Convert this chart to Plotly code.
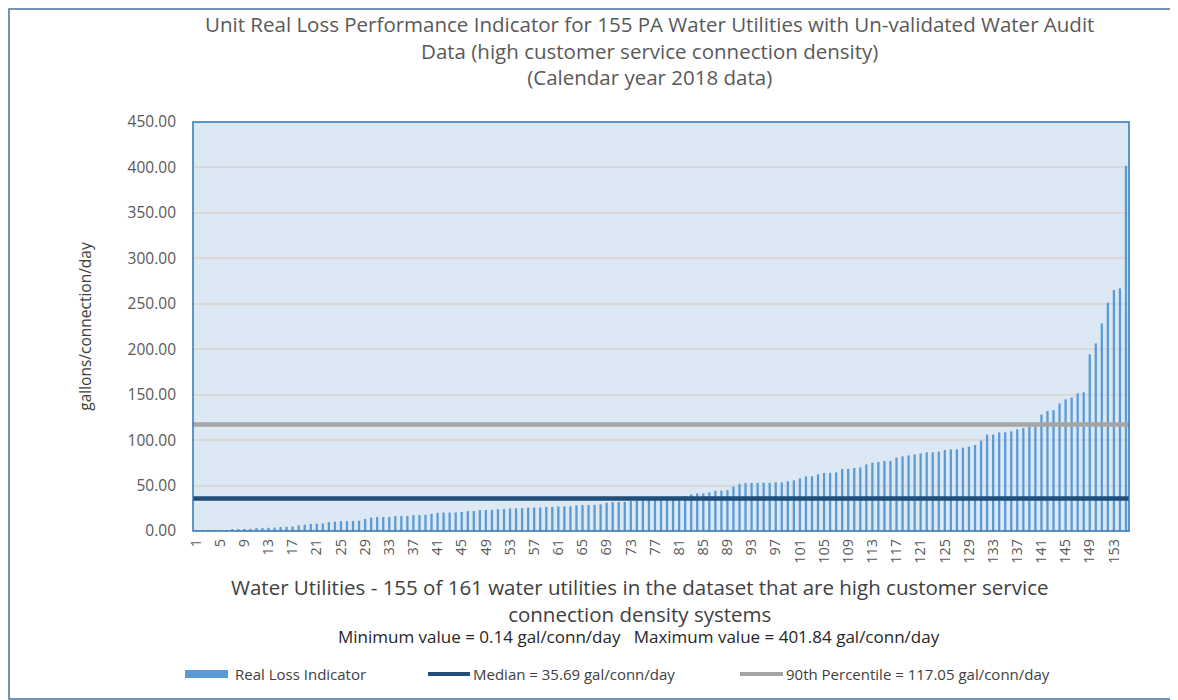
import plotly.graph_objects as go

# Unit real loss indicator (gal/conn/day), sorted ascending, one value per utility
real_loss = [
    0.14, 0.3, 0.5, 0.7, 0.9, 1.1, 1.3, 2.0, 2.2, 2.4,
    3.2, 3.4, 3.5, 3.7, 4.4, 4.6, 4.9, 6.3, 7.0, 7.8,
    8.0, 8.3, 9.8, 10.3, 10.8, 10.9, 11.1, 11.3, 13.2, 14.7,
    15.3, 15.4, 15.5, 16.4, 16.5, 16.6, 17.5, 17.6, 17.8, 19.0,
    20.1, 20.2, 20.3, 20.4, 20.9, 21.9, 22.0, 23.0, 23.1, 23.2,
    24.1, 24.2, 24.9, 25.0, 25.2, 25.7, 25.8, 25.9, 26.4, 26.5,
    27.0, 27.1, 27.2, 28.2, 28.5, 28.6, 28.7, 29.3, 31.1, 31.8,
    31.9, 32.0, 33.0, 33.5, 34.0, 34.5, 35.2, 35.69, 36.2, 36.8,
    37.3, 38.6, 40.3, 41.3, 41.4, 42.5, 44.3, 44.4, 45.1, 48.8,
    51.9, 52.7, 52.8, 52.9, 53.0, 53.1, 53.5, 53.6, 54.6, 55.7,
    57.9, 60.1, 60.2, 62.3, 63.8, 63.9, 64.5, 68.2, 68.3, 69.3,
    70.0, 73.3, 75.2, 75.9, 77.0, 77.1, 80.7, 82.1, 83.2, 84.3,
    85.4, 86.5, 86.6, 87.3, 89.1, 89.8, 89.9, 91.7, 92.8, 94.6,
    99.4, 106.0, 106.1, 108.5, 108.6, 109.6, 111.9, 113.3, 114.8, 117.05,
    128.0, 132.0, 133.1, 140.4, 144.9, 147.0, 151.5, 152.5, 194.3, 206.4,
    228.4, 251.2, 265.1, 266.9, 401.84,
]
utility_ids = list(range(1, len(real_loss) + 1))
tick_ids = utility_ids[::4]

median_value = 35.69
p90_value = 117.05
y_ticks = [0, 50, 100, 150, 200, 250, 300, 350, 400, 450]

x_range = [0.5, len(real_loss) + 0.5]

BAR_BLUE = "#5B9BD5"
MEDIAN_BLUE = "#1F4E79"
P90_GRAY = "#A5A5A5"
FONT = "Open Sans, DejaVu Sans, sans-serif"

# page body has an 8px margin, so the figure is 8px smaller and margins shifted
fig = go.Figure()

fig.add_trace(go.Bar(
    x=utility_ids,
    y=real_loss,
    name="Real Loss Indicator",
    marker=dict(color=BAR_BLUE, line=dict(width=0)),
    width=0.38,
))

fig.add_trace(go.Scatter(
    x=x_range,
    y=[median_value, median_value],
    mode="lines",
    line=dict(color=MEDIAN_BLUE, width=4.5),
    name="Median",
))

fig.add_trace(go.Scatter(
    x=x_range,
    y=[p90_value, p90_value],
    mode="lines",
    line=dict(color=P90_GRAY, width=4.5),
    name="90th Percentile",
))

fig.update_layout(
    width=1170,
    height=692,
    margin=dict(l=185, r=49, t=114, b=169),
    paper_bgcolor="white",
    plot_bgcolor="#DDE8F5",
    showlegend=False,
    font=dict(family=FONT, color="#595959"),
    xaxis=dict(
        range=x_range,
        tickvals=tick_ids,
        ticktext=[str(t) for t in tick_ids],
        tickangle=-90,
        tickfont=dict(size=14.5, color="#595959"),
        ticklabelstandoff=4,
        showgrid=False,
        zeroline=False,
        ticks="",
    ),
    yaxis=dict(
        range=[0, 450],
        tickvals=y_ticks,
        tickformat=".2f",
        tickfont=dict(size=15.5, color="#595959"),
        ticklabelstandoff=16,
        gridcolor="#D9D9D9",
        gridwidth=1.5,
        zeroline=False,
        ticks="",
        title=dict(text="gallons/connection/day", font=dict(size=15.5, color="#404040"), standoff=32),
    ),
)

px = lambda v: (v - 193) / 936
py = lambda v: (531 - v) / 409

# chart title
fig.add_annotation(
    text="Unit Real Loss Performance Indicator for 155 PA Water Utilities with Un-validated Water Audit"
         "<br>Data (high customer service connection density)<br>(Calendar year 2018 data)",
    xref="paper", yref="paper", x=px(649), y=py(8),
    xanchor="center", yanchor="top", showarrow=False,
    font=dict(size=20.5, color="#595959"),
)

# x axis caption
fig.add_annotation(
    text="Water Utilities - 155 of 161 water utilities in the dataset that are high customer service"
         "<br>connection density systems",
    xref="paper", yref="paper", x=px(639), y=py(571),
    xanchor="center", yanchor="top", showarrow=False,
    font=dict(size=20.5, color="#404040"),
)
fig.add_annotation(
    text="Minimum value = 0.14 gal/conn/day &nbsp; Maximum value = 401.84 gal/conn/day",
    xref="paper", yref="paper", x=px(639), y=py(636),
    xanchor="center", yanchor="middle", showarrow=False,
    font=dict(size=17, color="#262626"),
)

# plot area frame and outer chart border
fig.add_shape(type="rect", xref="paper", yref="paper", x0=0, x1=1, y0=0, y1=1,
              line=dict(color="#2E75B6", width=1.5))
fig.add_shape(type="rect", xref="paper", yref="paper",
              x0=px(9), x1=px(1176), y0=py(699), y1=py(9),
              line=dict(color="#41719C", width=1.5))

# manual legend
legend_y = py(674)
fig.add_shape(type="rect", xref="paper", yref="paper",
              x0=px(185), x1=px(228), y0=legend_y - 4 / 409, y1=legend_y + 4 / 409,
              fillcolor=BAR_BLUE, line=dict(width=0))
fig.add_shape(type="line", xref="paper", yref="paper",
              x0=px(428), x1=px(470), y0=legend_y, y1=legend_y,
              line=dict(color=MEDIAN_BLUE, width=4))
fig.add_shape(type="line", xref="paper", yref="paper",
              x0=px(740), x1=px(783), y0=legend_y, y1=legend_y,
              line=dict(color=P90_GRAY, width=4))
legend_items = [
    (233, "Real Loss Indicator"),
    (471, "Median = 35.69 gal/conn/day"),
    (784, "90th Percentile = 117.05 gal/conn/day"),
]
for lx, label in legend_items:
    fig.add_annotation(text=label, xref="paper", yref="paper", x=px(lx), y=legend_y,
                       xanchor="left", yanchor="middle", showarrow=False,
                       font=dict(size=15, color="#404040"))

fig.write_html("out.html")
